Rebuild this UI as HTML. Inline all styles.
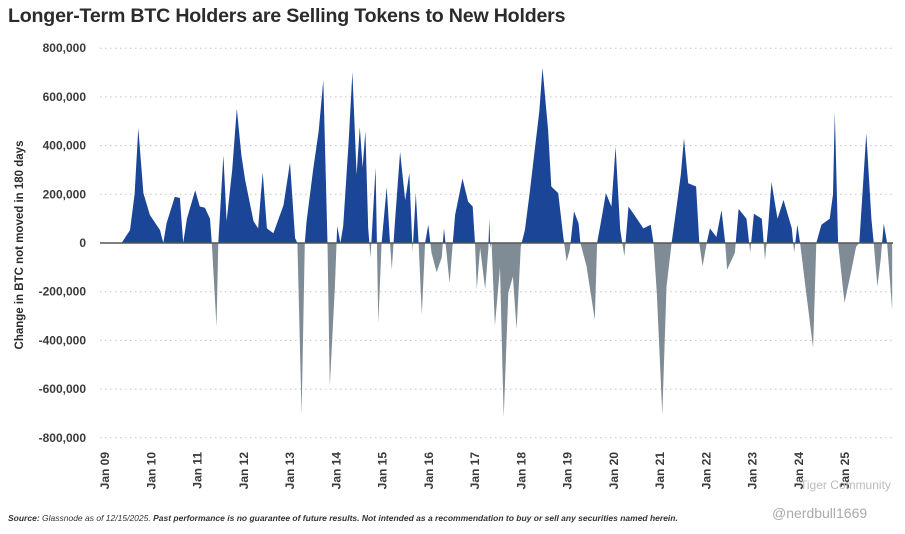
<!DOCTYPE html>
<html><head><meta charset="utf-8">
<style>
html,body{margin:0;padding:0;background:#fff;}
body{width:905px;height:534px;overflow:hidden;position:relative;font-family:"Liberation Sans",sans-serif;}
.title{position:absolute;left:8px;top:5px;font-size:19.6px;font-weight:bold;color:#2b2b2b;letter-spacing:-0.2px;}
.foot{position:absolute;left:8px;top:513px;font-size:8.5px;font-style:italic;color:#333;}
.wm{position:absolute;color:#bbb;font-size:12px;}
</style></head><body>
<div class="title">Longer-Term BTC Holders are Selling Tokens to New Holders</div>
<svg id="chart" width="905" height="534" style="position:absolute;left:0;top:0">
<defs>
<clipPath id="above"><rect id="clipA" x="0" y="0" width="905" height="243"/></clipPath>
<clipPath id="below"><rect id="clipB" x="0" y="243" width="905" height="300"/></clipPath>
</defs>
<g id="grid"></g><g id="areas"></g><g id="axes"></g>
</svg>
<div class="foot"><b>Source:</b> Glassnode as of 12/15/2025. <b>Past performance is no guarantee of future results. Not intended as a recommendation to buy or sell any securities named herein.</b></div>
<div class="wm" style="left:800px;top:478px">Tiger Community</div>
<div class="wm" style="left:772px;top:505px;font-size:14px;color:#aaa">@nerdbull1669</div>
<script>
const dates=[2008.9,2009.36,2009.54,2009.64,2009.72,2009.83,2009.97,2010.19,2010.26,2010.33,2010.51,2010.62,2010.69,2010.77,2010.95,2011.05,2011.16,2011.27,2011.31,2011.41,2011.45,2011.56,2011.63,2011.75,2011.85,2011.95,2012.03,2012.21,2012.31,2012.41,2012.5,2012.64,2012.86,2013.0,2013.11,2013.16,2013.25,2013.32,2013.36,2013.5,2013.62,2013.72,2013.81,2013.86,2013.97,2014.02,2014.09,2014.15,2014.27,2014.35,2014.44,2014.51,2014.57,2014.63,2014.69,2014.74,2014.85,2014.91,2014.98,2015.09,2015.15,2015.2,2015.27,2015.38,2015.49,2015.58,2015.65,2015.72,2015.78,2015.85,2015.92,2015.99,2016.06,2016.17,2016.28,2016.33,2016.45,2016.52,2016.57,2016.73,2016.85,2016.95,2017.0,2017.04,2017.11,2017.22,2017.29,2017.31,2017.33,2017.36,2017.43,2017.54,2017.62,2017.72,2017.82,2017.9,2017.99,2018.08,2018.19,2018.3,2018.39,2018.46,2018.58,2018.65,2018.8,2018.91,2018.98,2019.05,2019.14,2019.24,2019.28,2019.41,2019.59,2019.64,2019.73,2019.83,2019.95,2020.04,2020.14,2020.23,2020.32,2020.5,2020.64,2020.8,2020.86,2020.93,2021.05,2021.14,2021.25,2021.36,2021.45,2021.52,2021.61,2021.78,2021.85,2021.92,2022.01,2022.08,2022.22,2022.33,2022.41,2022.45,2022.62,2022.7,2022.87,2022.95,2023.03,2023.2,2023.27,2023.34,2023.41,2023.54,2023.67,2023.85,2023.9,2023.97,2024.03,2024.16,2024.31,2024.38,2024.49,2024.67,2024.74,2024.78,2024.85,2024.99,2025.14,2025.24,2025.31,2025.46,2025.57,2025.62,2025.7,2025.77,2025.84,2025.91,2026.02];
const values=[0,0,53,200,471,205,115,53,0,80,190,185,0,100,217,150,145,100,0,-343,0,360,90,300,552,360,260,90,60,290,60,40,155,330,20,0,-705,0,90,300,460,668,0,-589,-179,70,0,70,420,702,280,477,310,460,60,-60,310,-330,0,230,40,-110,90,374,175,287,-35,205,0,-295,0,75,-40,-120,-60,60,-165,0,115,265,170,150,0,-190,-20,-190,-20,100,-20,0,-340,-100,-717,-205,-137,-355,-14,53,217,395,540,720,464,232,205,25,-75,-27,130,80,0,-95,-315,0,95,205,150,395,55,-55,150,100,60,75,0,-205,-705,-180,0,150,280,430,245,232,0,-95,0,60,25,135,0,-110,-40,140,100,-40,120,100,-70,70,250,100,177,60,-40,75,0,-205,-430,0,75,100,200,538,0,-245,-110,-15,0,450,100,0,-180,-70,80,0,-275];
const yTicks=[800,600,400,200,0,-200,-400,-600,-800];
const yearLabels=["Jan 09","Jan 10","Jan 11","Jan 12","Jan 13","Jan 14","Jan 15","Jan 16","Jan 17","Jan 18","Jan 19","Jan 20","Jan 21","Jan 22","Jan 23","Jan 24","Jan 25"];
const yearVals=[2009,2010,2011,2012,2013,2014,2015,2016,2017,2018,2019,2020,2021,2022,2023,2024,2025];
const NS="http://www.w3.org/2000/svg";
const X=y=>105+(y-2009)*46.25;
const Y=v=>243-v*0.2435;
const grid=document.getElementById('grid'),areas=document.getElementById('areas'),axes=document.getElementById('axes');
function mk(tag,attrs,parent){const e=document.createElementNS(NS,tag);for(const k in attrs)e.setAttribute(k,attrs[k]);parent.appendChild(e);return e;}
yTicks.forEach(t=>{
  if(t!==0){const l=mk('line',{x1:100,x2:893,y1:Y(t),y2:Y(t),stroke:'#c4c4c4','stroke-width':1,'stroke-dasharray':'1.5,3.5'},grid);
  
  }
  const tx=mk('text',{x:86,y:Y(t)+4,'text-anchor':'end','font-size':'12','font-weight':'bold',fill:'#3a3a3a','font-family':'Liberation Sans, sans-serif'},axes);
  tx.textContent=t===0?'0':(t<0?'-':'')+Math.abs(t)+',000';
  
  
});
let d='M'+X(dates[0])+','+Y(0);
for(let i=0;i<dates.length;i++)d+=' L'+X(dates[i]).toFixed(1)+','+Y(values[i]).toFixed(1);
d+=' L'+X(dates[dates.length-1])+','+Y(0)+' Z';
document.getElementById('clipA').setAttribute('height',Y(0));
document.getElementById('clipB').setAttribute('y',Y(0));
const pos=mk('path',{d:d,fill:'#1b4596','clip-path':'url(#above)'},areas);


const neg=mk('path',{d:d,fill:'#7f8b95','clip-path':'url(#below)'},areas);


const zl=mk('line',{x1:100,x2:893,y1:Y(0),y2:Y(0),stroke:'#555','stroke-width':1.5},axes);


yearVals.forEach((yr,i)=>{
  const cx=X(yr)+4;
  const tx=mk('text',{x:0,y:0,transform:'translate('+cx+',452) rotate(-90)','text-anchor':'end','font-size':'12','font-weight':'bold',fill:'#3a3a3a','font-family':'Liberation Sans, sans-serif'},axes);
  tx.textContent=yearLabels[i];
  
  
});
const yt=mk('text',{x:0,y:0,transform:'translate(23,245) rotate(-90)','text-anchor':'middle','font-size':'11.5','font-weight':'bold',fill:'#2b2b2b','font-family':'Liberation Sans, sans-serif'},axes);
yt.textContent='Change in BTC not moved in 180 days';


</script>
</body></html>
